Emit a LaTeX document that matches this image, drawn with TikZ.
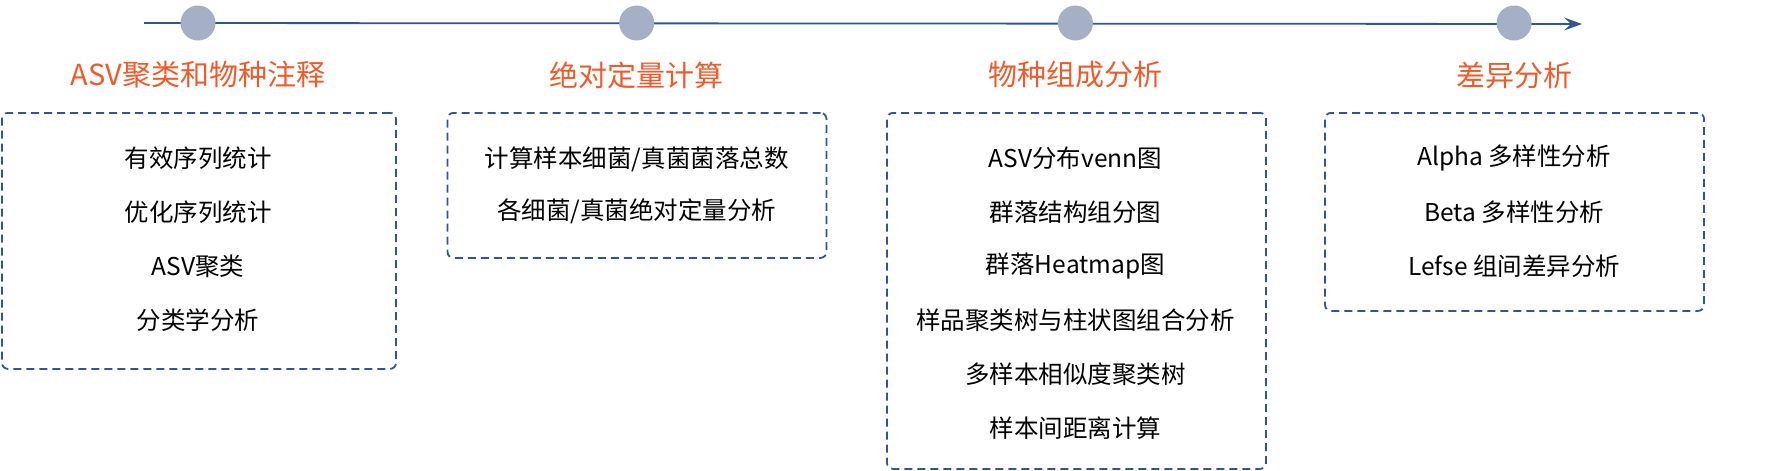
\documentclass[tikz,border=0pt]{standalone}
\usepackage{fontspec}
\setmainfont{Noto Sans CJK SC}
\usetikzlibrary{arrows.meta}
\definecolor{lineblue}{HTML}{2F5597}
\definecolor{dotgray}{HTML}{A5AFC5}
\definecolor{titleorange}{HTML}{EF5A2A}

\begin{document}
\begin{tikzpicture}[x=1pt, y=-1pt,
dot/.style={circle, fill=dotgray, minimum size=35pt, inner sep=0pt, node distance=438.7pt},
title/.style={text=titleorange, font=\fontsize{29}{34}\selectfont, node distance=52pt},
frame/.style={rectangle, draw=lineblue, line width=1.8pt, dash pattern=on 8pt off 5pt,
    rounded corners=6pt, minimum width=379pt, anchor=north},
item/.style={font=\fontsize{24.5}{29}\selectfont, node distance=54pt},
line/.style={draw=lineblue, line width=1.8pt, -{Stealth[length=18pt, width=13pt, inset=7pt]}}
]
\useasboundingbox (0,0) rectangle (1780,471);

\coordinate (line-start) at (144,23);
\coordinate (line-end) at (1582,24);
\path [line] (line-start) -- (line-end);

\node [dot] at (198,23) (dot-asv) {};
\node [dot, right of=dot-asv] (dot-abs) {};
\node [dot, right of=dot-abs] (dot-comp) {};
\node [dot, right of=dot-comp] (dot-diff) {};

\node [title, below of=dot-asv] (title-asv) {ASV聚类和物种注释};
\node [title, below of=dot-abs] (title-abs) {绝对定量计算};
\node [title, below of=dot-comp] (title-comp) {物种组成分析};
\node [title, below of=dot-diff] (title-diff) {差异分析};

\node [frame, minimum width=394pt, minimum height=256pt] at (199,112) (box-asv) {};
\node [frame, minimum height=145pt] at (637,112) (box-abs) {};
\node [frame, minimum height=356pt] at (1076.5,112) (box-comp) {};
\node [frame, minimum height=198pt] at (1514.5,112) (box-diff) {};

\node [item, below of=title-asv, node distance=83pt] (asv-0) {有效序列统计};
\node [item, below of=asv-0] (asv-1) {优化序列统计};
\node [item, below of=asv-1] (asv-2) {ASV聚类};
\node [item, below of=asv-2] (asv-3) {分类学分析};

\node [item, below of=title-abs, node distance=84pt] (abs-0) {计算样本细菌/真菌菌落总数};
\node [item, below of=abs-0, node distance=52pt] (abs-1) {各细菌/真菌绝对定量分析};

\node [item, below of=title-comp, node distance=83pt] (comp-0) {ASV分布venn图};
\node [item, below of=comp-0] (comp-1) {群落结构组分图};
\node [item, below of=comp-1] (comp-2) {群落Heatmap图};
\node [item, below of=comp-2] (comp-3) {样品聚类树与柱状图组合分析};
\node [item, below of=comp-3] (comp-4) {多样本相似度聚类树};
\node [item, below of=comp-4] (comp-5) {样本间距离计算};

\node [item, below of=title-diff, node distance=83pt] (diff-0) {Alpha 多样性分析};
\node [item, below of=diff-0] (diff-1) {Beta 多样性分析};
\node [item, below of=diff-1] (diff-2) {Lefse 组间差异分析};

\end{tikzpicture}
\end{document}
